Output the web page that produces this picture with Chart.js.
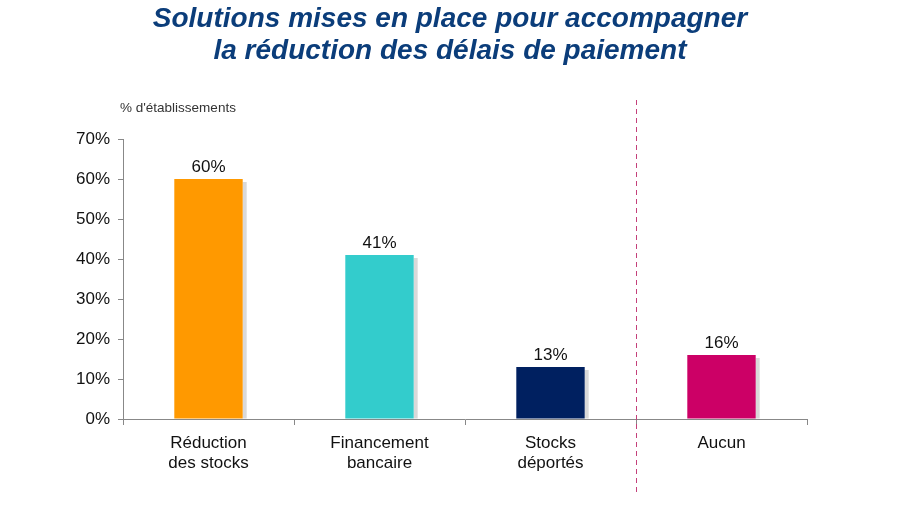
<!DOCTYPE html>
<html>
<head>
<meta charset="utf-8">
<script src="https://cdn.jsdelivr.net/npm/chart.js@4/dist/chart.umd.min.js"></script>
<style>
    html, body { margin: 0; padding: 0; background: #fff; }
    #wrap { width: 900px; height: 510px; position: relative; }
</style>
</head>
<body>
<div id="wrap"><canvas id="chart" width="900" height="510"></canvas></div>
<script>
// Chart data
const categories = [['Réduction', 'des stocks'], ['Financement', 'bancaire'], ['Stocks', 'déportés'], ['Aucun']];
const values = [60, 41, 13, 16];
const barColors = ['#FF9900', '#33CCCC', '#002060', '#CC0066'];
const titleLines = ['Solutions mises en place pour accompagner', 'la réduction des délais de paiement'];
const unitLabel = "% d'établissements";

const FONT = '"Liberation Sans", Arial, sans-serif';

// Title, unit label, separator line, bar shadows and value labels
const decorations = {
    id: 'decorations',
    beforeDatasetsDraw(chart) {
        const ctx = chart.ctx;
        const meta = chart.getDatasetMeta(0);
        ctx.save();
        ctx.fillStyle = 'rgba(0,0,0,0.15)';
        meta.data.forEach(bar => {
            const w = bar.width;
            ctx.fillRect(bar.x + w / 2, bar.y + 3, 4, bar.base - bar.y - 3);
        });
        ctx.restore();
    },
    afterDraw(chart) {
        const ctx = chart.ctx;
        const x = chart.scales.x;
        const y = chart.scales.y;
        ctx.save();

        // title
        ctx.fillStyle = '#0B3D7A';
        ctx.font = 'italic bold 28px ' + FONT;
        ctx.textAlign = 'center';
        ctx.textBaseline = 'middle';
        ctx.fillText(titleLines[0], 450, 19);
        ctx.fillText(titleLines[1], 450, 51);

        // unit label
        ctx.fillStyle = '#333';
        ctx.font = '13.5px ' + FONT;
        ctx.textAlign = 'left';
        ctx.fillText(unitLabel, 120, 108);

        // dashed separator between categories 3 and 4
        const sepX = (x.getPixelForValue(2) + x.getPixelForValue(3)) / 2;
        ctx.strokeStyle = '#C4407A';
        ctx.lineWidth = 1;
        ctx.setLineDash([5, 4]);
        ctx.beginPath();
        ctx.moveTo(sepX + 0.5, 100);
        ctx.lineTo(sepX + 0.5, 495);
        ctx.stroke();
        ctx.setLineDash([]);

        // value labels
        ctx.fillStyle = '#111';
        ctx.font = '17px ' + FONT;
        ctx.textAlign = 'center';
        ctx.textBaseline = 'bottom';
        chart.getDatasetMeta(0).data.forEach((bar, i) => {
            ctx.fillText(values[i] + '%', bar.x, y.getPixelForValue(values[i]) - 3);
        });
        ctx.restore();
    }
};

new Chart(document.getElementById('chart'), {
    type: 'bar',
    data: {
        labels: categories,
        datasets: [{
            data: values,
            backgroundColor: barColors,
            borderWidth: 0,
            categoryPercentage: 1,
            barPercentage: 0.4
        }]
    },
    options: {
        responsive: false,
        animation: false,
        events: [],
        layout: { padding: { left: 0, right: 93, top: 139, bottom: 0 } },
        plugins: {
            legend: { display: false },
            tooltip: { enabled: false }
        },
        scales: {
            x: {
                grid: { offset: true, drawOnChartArea: false, color: '#888', tickLength: 6 },
                border: { color: '#888' },
                ticks: { color: '#111', font: { family: FONT, size: 17, lineHeight: 1.2 }, padding: 8, maxRotation: 0 },
                afterFit(scale) { scale.height = 91; }
            },
            y: {
                min: 0,
                max: 70,
                grid: { drawOnChartArea: false, color: '#888', tickLength: 5 },
                border: { color: '#888' },
                ticks: {
                    stepSize: 10,
                    color: '#111',
                    font: { family: FONT, size: 17 },
                    padding: 8,
                    callback: v => v + '%'
                },
                afterFit(scale) { scale.width = 123; }
            }
        }
    },
    plugins: [decorations]
});
</script>
</body>
</html>
